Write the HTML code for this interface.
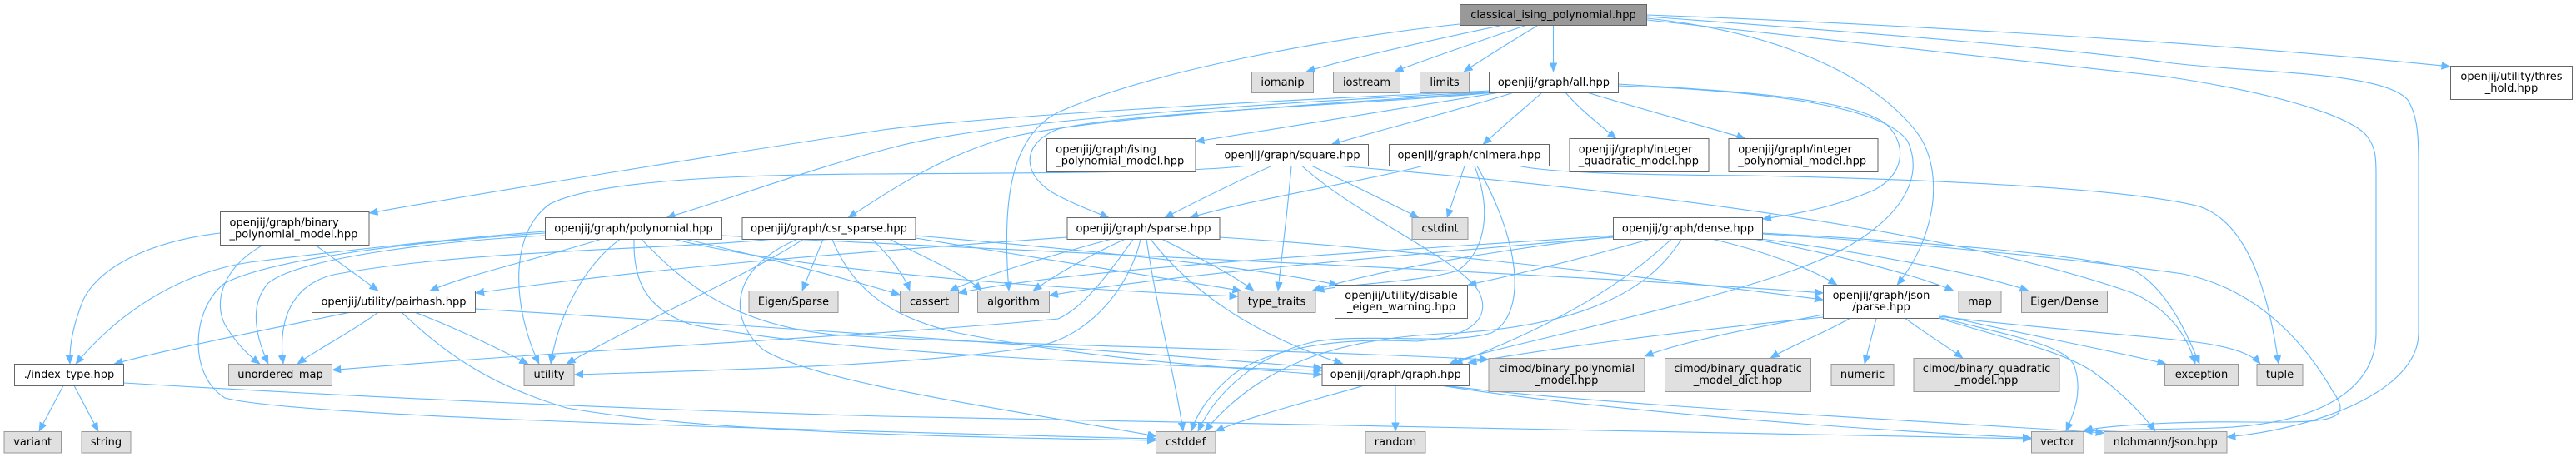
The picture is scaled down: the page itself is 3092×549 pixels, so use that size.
<!DOCTYPE html>
<html><head><meta charset="utf-8"><style>
html,body{margin:0;padding:0;background:#fff;}
svg{display:block;}
text{font-family:"DejaVu Sans","Liberation Sans",sans-serif;font-size:13px;fill:#000;}
.w{fill:#fff;stroke:#666;stroke-width:1;}
.g{fill:#e0e0e0;stroke:#999;stroke-width:1;}
.r{fill:#999;stroke:#666;stroke-width:1;}
.e{fill:none;stroke:#63b8ff;stroke-width:1.1;marker-end:url(#a);}
</style></head><body>
<svg width="3092" height="549" viewBox="0 0 3092 549" xmlns="http://www.w3.org/2000/svg">
<defs><marker id="a" markerWidth="12" markerHeight="10" refX="10.5" refY="4.5" orient="auto" markerUnits="userSpaceOnUse"><path d="M0,0 L10.5,4.5 L0,9 z" fill="#63b8ff" stroke="#63b8ff" stroke-width="0.5"/></marker></defs>
<rect width="3092" height="549" fill="#fff"/>
<g>
<path class="e" d="M1800,31 C1720,48 1620,70 1568,86"/>
<path class="e" d="M1830,31 C1780,48 1710,72 1674,86"/>
<path class="e" d="M1845,31 C1820,46 1785,68 1757,86"/>
<path class="e" d="M1864.5,31 L1864.5,86"/>
<path class="e" d="M1752,29 C1600,45 1380,85 1270,135 C1210,165 1203,250 1211,349.3"/>
<path class="e" d="M1977,18 C2250,28 2650,50 2941,80"/>
<path class="e" d="M1977,22 C2150,40 2260,100 2305,165 C2335,215 2320,290 2277,342.3"/>
<path class="e" d="M1977,20 C2250,40 2500,60 2600,75 C2700,88 2860,85 2890,120 C2903,140 2903,170 2903,200 L2903,400 C2903,470 2780,515 2673,525"/>
<path class="e" d="M1977,24 C2250,55 2480,78 2600,92 C2720,110 2810,135 2838,160 C2852,175 2852,190 2852,210 L2852,400 C2852,470 2780,510 2660,514 C2600,516 2540,516 2501,518"/>
<path class="e" d="M1790,109 C1500,122 1180,140 1060,156 C900,180 600,228 443,256"/>
<path class="e" d="M1795,110 C1500,125 1200,145 1080,175 C980,200 880,238 800,261.5"/>
<path class="e" d="M1800,110 C1600,125 1300,140 1200,168 C1120,192 1060,235 1018,261.5"/>
<path class="e" d="M1800,111 C1700,128 1560,150 1435,170"/>
<path class="e" d="M1795,111 C1650,125 1350,135 1270,155 C1220,175 1230,215 1270,235 C1295,248 1315,255 1331,261.5"/>
<path class="e" d="M1817,111 C1760,130 1650,158 1598,173.6"/>
<path class="e" d="M1851,111 C1830,130 1800,155 1780,173.6"/>
<path class="e" d="M1879,111 C1895,130 1920,150 1940,166.5"/>
<path class="e" d="M1905,111 C1960,128 2040,150 2095,166.5"/>
<path class="e" d="M1942,101 C2100,110 2230,120 2265,150 C2290,175 2285,210 2250,228 C2200,250 2150,258 2115.5,263"/>
<path class="e" d="M1942,103 C2100,108 2260,125 2290,170 C2310,215 2280,260 2220,295 C2150,335 2000,370 1900,395 C1820,415 1770,425 1740,437.2"/>
<path class="e" d="M1494,199.5 C1420,208 1200,208 1040,209 C900,210 720,215 660,245 C610,280 615,370 647,437.2"/>
<path class="e" d="M1526,199.5 C1480,220 1430,245 1398,261.5"/>
<path class="e" d="M1550,199.5 C1545,260 1538,310 1534,349.3"/>
<path class="e" d="M1575,199.5 C1620,220 1670,245 1703,261.5"/>
<path class="e" d="M1563,199.5 C1630,260 1750,310 1775,350 C1790,380 1770,405 1700,410 C1600,405 1520,420 1480,450 C1450,475 1435,500 1430,518"/>
<path class="e" d="M1610,199.5 C1800,215 2300,260 2560,352 C2600,370 2625,400 2635,437.2"/>
<path class="e" d="M1707,199.5 C1650,215 1500,240 1428,261.5"/>
<path class="e" d="M1758,199.5 L1737,261.5"/>
<path class="e" d="M1770,199.5 C1790,250 1785,300 1750,325 C1700,340 1620,340 1579,349.3"/>
<path class="e" d="M1773,199.5 C1830,300 1830,380 1790,400 C1740,415 1650,400 1580,410 C1510,425 1460,470 1438,518"/>
<path class="e" d="M1824,199.5 C1860,207 1950,210 2100,211 C2300,215 2550,225 2640,248 C2690,265 2720,330 2735,437.2"/>
<path class="e" d="M721,287.4 C650,310 560,330 516,349.3"/>
<path class="e" d="M744,287.4 C700,320 670,380 661,437.2"/>
<path class="e" d="M654,278 C560,285 420,300 300,315 C200,330 130,390 91,437.2"/>
<path class="e" d="M654,280 C500,290 330,310 270,340 C230,370 225,450 270,478 C350,500 900,515 1387.5,527"/>
<path class="e" d="M654,283 C520,290 360,310 322,340 C300,365 305,400 322,437.2"/>
<path class="e" d="M761,287.4 C760,330 770,370 830,390 C1000,425 1400,440 1587,445"/>
<path class="e" d="M770,287.4 C820,340 880,390 1000,402 C1200,415 1500,418 1787,432"/>
<path class="e" d="M809,287.4 C900,310 1100,340 1486,356"/>
<path class="e" d="M823,287.4 C900,305 1000,330 1080.3,354"/>
<path class="e" d="M866.8,283 C1200,300 1900,330 2188.5,352"/>
<path class="e" d="M964,287.4 C900,330 760,390 680,437.2"/>
<path class="e" d="M988,287.4 L963,349.3"/>
<path class="e" d="M1047,287.4 C1070,310 1085,330 1092,349.3"/>
<path class="e" d="M1068,287.4 C1110,310 1160,330 1178,349.3"/>
<path class="e" d="M1099,283 C1300,300 1500,320 1606,342.3"/>
<path class="e" d="M1099,286 C1250,310 1400,335 1490,349.3"/>
<path class="e" d="M957,287.4 C880,320 870,380 916,420 C980,460 1200,490 1388,524"/>
<path class="e" d="M999,287.4 C1020,340 1060,380 1150,400 C1300,430 1450,440 1587,450"/>
<path class="e" d="M925,287.4 C800,300 560,300 400,330 C340,345 335,400 340,437.2"/>
<path class="e" d="M1281,285 C1000,305 800,320 570.6,352"/>
<path class="e" d="M1333,287.4 C1250,310 1170,335 1140,349.3"/>
<path class="e" d="M1350,287.4 C1300,310 1260,335 1240,349.3"/>
<path class="e" d="M1360,287.4 C1330,330 1300,370 1270,383 C1100,400 700,420 398.8,444.5"/>
<path class="e" d="M1369,287.4 C1360,330 1320,400 1246,416 C1100,440 850,445 689.4,450"/>
<path class="e" d="M1376,287.4 C1390,380 1410,450 1420,518"/>
<path class="e" d="M1395,287.4 C1440,310 1480,330 1505,349.3"/>
<path class="e" d="M1381,287.4 C1430,350 1500,400 1612,437.2"/>
<path class="e" d="M1464,285 C1700,300 1950,330 2188.5,360"/>
<path class="e" d="M1936,283 C1700,300 1300,320 1150.2,352"/>
<path class="e" d="M1936,285 C1700,305 1400,330 1259.4,355"/>
<path class="e" d="M1980,287.4 C1900,310 1820,330 1761.8,342.3"/>
<path class="e" d="M2006,287.4 C1950,340 1870,390 1745,437.2"/>
<path class="e" d="M2018,287.4 C1980,350 1900,390 1750,400 C1620,405 1520,430 1446,518"/>
<path class="e" d="M1936,284 C1800,300 1650,325 1575,349.3"/>
<path class="e" d="M2107,287.4 C2200,305 2300,330 2345,349.3"/>
<path class="e" d="M2114,287 C2250,305 2380,330 2435,349.3"/>
<path class="e" d="M2056,287.4 C2110,300 2170,320 2205,342.3"/>
<path class="e" d="M2115,280 C2300,290 2500,305 2560,324 C2600,345 2625,400 2640,437.2"/>
<path class="e" d="M2115,281 C2300,292 2500,312 2620,329 C2700,345 2760,400 2800,470 C2825,505 2800,508 2700,507 C2620,506 2540,510 2501,517"/>
<path class="e" d="M2188.5,378 C2100,395 2020,410 1974,428"/>
<path class="e" d="M2188.5,381 C2000,400 1850,420 1762,436"/>
<path class="e" d="M2220,382.6 C2190,400 2150,415 2125,430.2"/>
<path class="e" d="M2252,382.6 L2238,437.2"/>
<path class="e" d="M2287,382.6 C2310,400 2340,418 2356,430.2"/>
<path class="e" d="M2327,378 C2420,400 2530,420 2600,437.2"/>
<path class="e" d="M2327,380 C2450,395 2600,405 2650,413 C2690,420 2705,428 2713,437.2"/>
<path class="e" d="M2327,381 C2420,405 2480,415 2490,440 C2500,470 2490,495 2480,518"/>
<path class="e" d="M2327,382 C2400,405 2470,420 2510,445 C2545,470 2570,495 2587,518"/>
<path class="e" d="M1675,463.2 L1675,518"/>
<path class="e" d="M1637,463.2 C1580,480 1500,500 1458.8,518"/>
<path class="e" d="M1730,463.2 C1900,490 2200,515 2438.5,526"/>
<path class="e" d="M1735,463.2 C1900,485 2300,505 2526,520"/>
<path class="e" d="M420,375.2 C300,400 200,420 137,437.2"/>
<path class="e" d="M454,375.2 C420,400 380,420 357,437.2"/>
<path class="e" d="M482,375.2 C530,420 580,460 680,490 C850,520 1150,525 1387.5,529"/>
<path class="e" d="M498,375.2 C550,395 600,420 634,437.2"/>
<path class="e" d="M570.6,371 C800,385 1200,410 1587,442"/>
<path class="e" d="M76,463.2 L47,518"/>
<path class="e" d="M89,463.2 L118,518"/>
<path class="e" d="M148.8,460 C400,475 700,490 1060,500 C1400,508 2000,518 2438.5,527"/>
<path class="e" d="M264.5,280 C180,290 120,320 100,360 C88,390 83,415 84,437.2"/>
<path class="e" d="M315,294.7 C270,320 255,360 270,390 C285,415 300,428 312,437.2"/>
<path class="e" d="M379,294.7 L454,349.3"/>
</g>
<g>
<rect class="r" x="1752.5" y="5.5" width="224" height="25"/><text x="1864.5" y="22" text-anchor="middle">classical_ising_polynomial.hpp</text>
<rect class="g" x="1502.5" y="86.5" width="74" height="25"/><text x="1539.5" y="103" text-anchor="middle">iomanip</text>
<rect class="g" x="1600.5" y="86.5" width="80" height="25"/><text x="1640.5" y="103" text-anchor="middle">iostream</text>
<rect class="g" x="1704.5" y="86.5" width="59" height="25"/><text x="1734" y="103" text-anchor="middle">limits</text>
<rect class="w" x="1787.5" y="86.5" width="155" height="25"/><text x="1865" y="103" text-anchor="middle">openjij/graph/all.hpp</text>
<rect class="w" x="2941.5" y="79.5" width="146" height="40"/><text x="3014.5" y="96" text-anchor="middle">openjij/utility/thres</text><text x="3014.5" y="110" text-anchor="middle">_hold.hpp</text>
<rect class="w" x="1256.5" y="166.5" width="178.5" height="40"/><text x="1267.3" y="183.3">openjij/graph/ising</text><text x="1267.3" y="197.3">_polynomial_model.hpp</text>
<rect class="w" x="1459.5" y="173.5" width="183" height="26"/><text x="1551" y="190.6" text-anchor="middle">openjij/graph/square.hpp</text>
<rect class="w" x="1667.5" y="173.5" width="192" height="26"/><text x="1763.5" y="190.6" text-anchor="middle">openjij/graph/chimera.hpp</text>
<rect class="w" x="1884" y="166.5" width="167" height="40"/><text x="1894.8" y="183.3">openjij/graph/integer</text><text x="1894.8" y="197.3">_quadratic_model.hpp</text>
<rect class="w" x="2075" y="166.5" width="179" height="40"/><text x="2086.2" y="183.3">openjij/graph/integer</text><text x="2086.2" y="197.3">_polynomial_model.hpp</text>
<rect class="w" x="264.5" y="254.5" width="178.5" height="40"/><text x="275.5" y="271.3">openjij/graph/binary</text><text x="275.5" y="285.3">_polynomial_model.hpp</text>
<rect class="w" x="654.5" y="261.5" width="212" height="26"/><text x="760.5" y="278.5" text-anchor="middle">openjij/graph/polynomial.hpp</text>
<rect class="w" x="891" y="261.5" width="208" height="26"/><text x="995" y="278.5" text-anchor="middle">openjij/graph/csr_sparse.hpp</text>
<rect class="w" x="1281" y="261.5" width="183" height="26"/><text x="1372.5" y="278.5" text-anchor="middle">openjij/graph/sparse.hpp</text>
<rect class="g" x="1695" y="261.5" width="67" height="26"/><text x="1728.5" y="278.5" text-anchor="middle">cstdint</text>
<rect class="w" x="1936.5" y="261.5" width="179" height="26"/><text x="2026" y="278.5" text-anchor="middle">openjij/graph/dense.hpp</text>
<rect class="w" x="374.5" y="349.5" width="196" height="26"/><text x="472.5" y="366.3" text-anchor="middle">openjij/utility/pairhash.hpp</text>
<rect class="g" x="899" y="349.5" width="107" height="26"/><text x="952.5" y="366.3" text-anchor="middle">Eigen/Sparse</text>
<rect class="g" x="1080.5" y="349.5" width="70" height="26"/><text x="1115.5" y="366.3" text-anchor="middle">cassert</text>
<rect class="g" x="1173.5" y="349.5" width="86" height="26"/><text x="1216.5" y="366.3" text-anchor="middle">algorithm</text>
<rect class="g" x="1486" y="349.5" width="93" height="26"/><text x="1532.5" y="366.3" text-anchor="middle">type_traits</text>
<rect class="w" x="1602.5" y="342.5" width="159" height="40"/><text x="1682" y="359.1" text-anchor="middle">openjij/utility/disable</text><text x="1682" y="373.1" text-anchor="middle">_eigen_warning.hpp</text>
<rect class="w" x="2188.5" y="342.5" width="139" height="40"/><text x="2258" y="359.1" text-anchor="middle">openjij/graph/json</text><text x="2258" y="373.1" text-anchor="middle">/parse.hpp</text>
<rect class="g" x="2351" y="349.5" width="51" height="26"/><text x="2376.5" y="366.3" text-anchor="middle">map</text>
<rect class="g" x="2426.5" y="349.5" width="103" height="26"/><text x="2478" y="366.3" text-anchor="middle">Eigen/Dense</text>
<rect class="w" x="17.5" y="437.5" width="131" height="26"/><text x="83" y="454.2" text-anchor="middle">./index_type.hpp</text>
<rect class="g" x="274.5" y="437.5" width="124" height="26"/><text x="336.5" y="454.2" text-anchor="middle">unordered_map</text>
<rect class="g" x="629" y="437.5" width="60" height="26"/><text x="659" y="454.2" text-anchor="middle">utility</text>
<rect class="w" x="1587" y="437.5" width="176.5" height="26"/><text x="1675.2" y="454.2" text-anchor="middle">openjij/graph/graph.hpp</text>
<rect class="g" x="1787" y="430.5" width="187" height="40"/><text x="1880.5" y="447" text-anchor="middle">cimod/binary_polynomial</text><text x="1880.5" y="461" text-anchor="middle">_model.hpp</text>
<rect class="g" x="1998.5" y="430.5" width="175" height="40"/><text x="2086" y="447" text-anchor="middle">cimod/binary_quadratic</text><text x="2086" y="461" text-anchor="middle">_model_dict.hpp</text>
<rect class="g" x="2198" y="437.5" width="75" height="26"/><text x="2235.5" y="454.2" text-anchor="middle">numeric</text>
<rect class="g" x="2297" y="430.5" width="175" height="40"/><text x="2384.5" y="447" text-anchor="middle">cimod/binary_quadratic</text><text x="2384.5" y="461" text-anchor="middle">_model.hpp</text>
<rect class="g" x="2598.5" y="437.5" width="88" height="26"/><text x="2642.5" y="454.2" text-anchor="middle">exception</text>
<rect class="g" x="2709" y="437.5" width="55" height="26"/><text x="2736.5" y="454.2" text-anchor="middle">tuple</text>
<rect class="g" x="5" y="518.5" width="68.5" height="25.5"/><text x="39.2" y="535" text-anchor="middle">variant</text>
<rect class="g" x="98" y="518.5" width="59" height="25.5"/><text x="127.5" y="535" text-anchor="middle">string</text>
<rect class="g" x="1639" y="518.5" width="72" height="25.5"/><text x="1675" y="535" text-anchor="middle">random</text>
<rect class="g" x="1387.5" y="518.5" width="71.5" height="25.5"/><text x="1423.2" y="535" text-anchor="middle">cstddef</text>
<rect class="g" x="2438.5" y="518.5" width="62.5" height="25.5"/><text x="2469.7" y="535" text-anchor="middle">vector</text>
<rect class="g" x="2525.5" y="518.5" width="147.5" height="25.5"/><text x="2599.3" y="535" text-anchor="middle">nlohmann/json.hpp</text>
</g>
</svg>
</body></html>
